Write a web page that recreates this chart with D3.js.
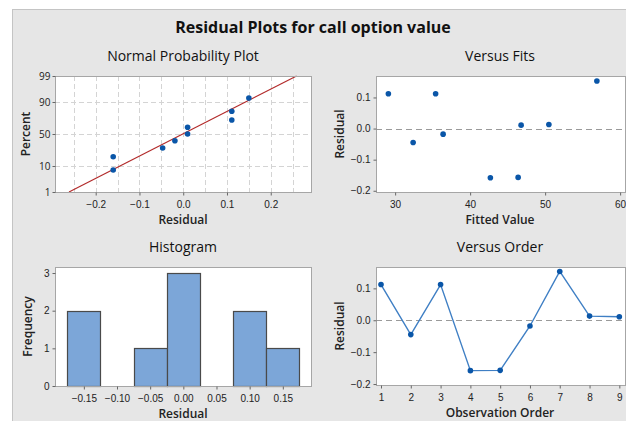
<!DOCTYPE html>
<html>
<head>
<meta charset="utf-8">
<script src="https://cdn.jsdelivr.net/npm/d3@7"></script>
<style>
  body { margin: 0; background: #fff; }
  svg { display: block; font-family: "Open Sans", "Noto Sans", sans-serif; }
  .tick text { font-size: 10px; fill: #222; }
  .tick line { stroke: #666; }
</style>
</head>
<body>
<div id="chart"></div>
<script>
// residuals in observation order
const order = [1, 2, 3, 4, 5, 6, 7, 8, 9];
const residuals = [0.112, -0.045, 0.112, -0.158, -0.157, -0.018, 0.153, 0.013, 0.011];
const fitted = [29.1, 32.4, 35.4, 42.7, 46.4, 36.4, 56.9, 50.5, 46.8];

// normal probability plot: sorted residuals and their plotted percents
const nppResid = [-0.160, -0.160, -0.047, -0.019, 0.010, 0.010, 0.111, 0.111, 0.150];
const nppPercent = [7.4, 18.1, 28.7, 39.4, 50, 60.6, 71.3, 81.9, 92.6];
const nppLine = [{ r: -0.261, p: 1 }, { r: 0.259, p: 99 }];
const percentTicks = [1, 10, 50, 90, 99];
const percentGrid = [10, 50, 90];

// histogram bins
const binCenters = [-0.15, -0.10, -0.05, 0.00, 0.05, 0.10, 0.15];
const binCounts = [2, 0, 1, 3, 0, 2, 1];
const binWidth = 0.05;

const W = 626, H = 421;
const blue = "#0a56a8";

const svg = d3.select("#chart").append("svg")
  .attr("width", W).attr("height", H);

// outer gray panel
svg.append("rect")
  .attr("x", 12.5).attr("y", 9.5).attr("width", W).attr("height", H)
  .attr("fill", "#e6e6e6").attr("stroke", "#c4c4c4");

svg.append("text")
  .attr("x", 313).attr("y", 33).attr("text-anchor", "middle")
  .attr("font-size", 16).attr("font-weight", "bold").attr("fill", "#111")
  .text("Residual Plots for call option value");

// inverse normal cdf (Acklam) for the probability axis
function probit(p) {
  const a = [-39.6968302866538, 220.946098424521, -275.928510446969, 138.357751867269, -30.6647980661472, 2.50662827745924];
  const b = [-54.4760987982241, 161.585836858041, -155.698979859887, 66.8013118877197, -13.2806815528857];
  const c = [-0.00778489400243029, -0.322396458041136, -2.40075827716184, -2.54973253934373, 4.37466414146497, 2.93816398269878];
  const d = [0.00778469570904146, 0.32246712907004, 2.445134137143, 3.75440866190742];
  const pl = 0.02425;
  let q, r;
  if (p < pl) {
    q = Math.sqrt(-2 * Math.log(p));
    return (((((c[0]*q+c[1])*q+c[2])*q+c[3])*q+c[4])*q+c[5]) / ((((d[0]*q+d[1])*q+d[2])*q+d[3])*q+1);
  }
  if (p > 1 - pl) {
    q = Math.sqrt(-2 * Math.log(1 - p));
    return -(((((c[0]*q+c[1])*q+c[2])*q+c[3])*q+c[4])*q+c[5]) / ((((d[0]*q+d[1])*q+d[2])*q+d[3])*q+1);
  }
  q = p - 0.5; r = q * q;
  return (((((a[0]*r+a[1])*r+a[2])*r+a[3])*r+a[4])*r+a[5])*q / (((((b[0]*r+b[1])*r+b[2])*r+b[3])*r+b[4])*r+1);
}

// sets up one sub plot: title, white frame, axis titles
function panel(box, title, xTitle, yTitle) {
  const g = svg.append("g");
  g.append("rect")
    .attr("x", box.x0 + 0.5).attr("y", box.y0 + 0.5)
    .attr("width", box.x1 - box.x0).attr("height", box.y1 - box.y0)
    .attr("fill", "#fff");
  g.append("text")
    .attr("x", box.cx).attr("y", box.y0 - 15).attr("text-anchor", "middle")
    .attr("font-size", 14).attr("fill", "#111").text(title);
  g.append("text")
    .attr("x", box.cx).attr("y", box.y1 + 32).attr("text-anchor", "middle")
    .attr("font-size", 12).attr("font-weight", 600).attr("fill", "#222").text(xTitle);
  g.append("text")
    .attr("transform", `translate(${box.yt}, ${(box.y0 + box.y1) / 2}) rotate(-90)`)
    .attr("text-anchor", "middle")
    .attr("font-size", 12).attr("font-weight", 600).attr("fill", "#222").text(yTitle);
  return g;
}

function frame(g, box) {
  g.append("rect")
    .attr("x", box.x0 + 0.5).attr("y", box.y0 + 0.5)
    .attr("width", box.x1 - box.x0).attr("height", box.y1 - box.y0)
    .attr("fill", "none").attr("stroke", "#a6a6a6");
}

function axes(g, box, xAxis, yAxis) {
  const gx = g.append("g").attr("transform", `translate(0, ${box.y1 + 0.5})`).call(xAxis);
  gx.select(".domain").remove();
  gx.selectAll("text").attr("dy", "0.9em");
  if (yAxis) {
    const gy = g.append("g").attr("transform", `translate(${box.x0 + 0.5}, 0)`).call(yAxis);
    gy.select(".domain").remove();
  }
}

// 1. normal probability plot
{
  const box = { x0: 55, x1: 311, y0: 76, y1: 192, cx: 183, yt: 30 };
  const g = panel(box, "Normal Probability Plot", "Residual", "Percent");
  const x = d3.scaleLinear().domain([-0.293, 0.292]).range([box.x0, box.x1]);
  const z = d3.scaleLinear().domain([probit(0.01), probit(0.99)]).range([box.y1, box.y0]);
  const y = p => z(probit(p / 100));

  g.append("g").selectAll("line").data(d3.range(-0.25, 0.2501, 0.05)).join("line")
    .attr("x1", d => Math.round(x(d)) + 0.5).attr("x2", d => Math.round(x(d)) + 0.5)
    .attr("y1", box.y0).attr("y2", box.y1)
    .attr("stroke", "#d4d4d4").attr("stroke-dasharray", "5,3");
  g.append("g").selectAll("line").data(percentGrid).join("line")
    .attr("x1", box.x0).attr("x2", box.x1)
    .attr("y1", d => Math.round(y(d)) + 0.5).attr("y2", d => Math.round(y(d)) + 0.5)
    .attr("stroke", "#d4d4d4").attr("stroke-dasharray", "5,3");

  g.append("path")
    .datum(nppLine)
    .attr("d", d3.line().x(d => x(d.r)).y(d => y(d.p)))
    .attr("stroke", "#b22a2a").attr("stroke-width", 1.2).attr("fill", "none");

  g.append("g").selectAll("circle").data(nppResid).join("circle")
    .attr("cx", d => x(d)).attr("cy", (d, i) => y(nppPercent[i]))
    .attr("r", 2.8).attr("fill", blue);

  frame(g, box);
  axes(g, box,
    d3.axisBottom(x).tickValues([-0.2, -0.1, 0, 0.1, 0.2]).tickFormat(d3.format(".1f")).tickSize(3),
    null);
  // percent ticks on the probability scale
  const py = g.append("g").selectAll("g").data(percentTicks).join("g")
    .attr("transform", d => `translate(${box.x0 + 0.5}, ${Math.round(y(d)) + 0.5})`);
  py.append("line").attr("x2", -3).attr("stroke", "#666");
  py.append("text")
    .attr("x", -5).attr("dy", "0.32em")
    .attr("text-anchor", "end").attr("font-size", 10).attr("fill", "#222")
    .text(d => d);
}

// 2. versus fits
{
  const box = { x0: 376, x1: 625, y0: 76, y1: 192, cx: 500, yt: 344 };
  const g = panel(box, "Versus Fits", "Fitted Value", "Residual");
  const x = d3.scaleLinear().domain([27.45, 60.65]).range([box.x0, box.x1]);
  const y = d3.scaleLinear().domain([-0.204, 0.169]).range([box.y1, box.y0]);

  g.append("line")
    .attr("x1", box.x0).attr("x2", box.x1)
    .attr("y1", Math.round(y(0)) + 0.5).attr("y2", Math.round(y(0)) + 0.5)
    .attr("stroke", "#9a9a9a").attr("stroke-width", 1.2).attr("stroke-dasharray", "6,4");

  g.append("g").selectAll("circle").data(residuals).join("circle")
    .attr("cx", (d, i) => x(fitted[i])).attr("cy", d => y(d))
    .attr("r", 2.8).attr("fill", blue);

  frame(g, box);
  axes(g, box,
    d3.axisBottom(x).tickValues([30, 40, 50, 60]).tickSize(3),
    d3.axisLeft(y).tickValues([-0.2, -0.1, 0, 0.1]).tickFormat(d3.format(".1f")).tickSize(3));
}

// 3. histogram
{
  const box = { x0: 55, x1: 311, y0: 267, y1: 386, cx: 183, yt: 32 };
  const g = panel(box, "Histogram", "Residual", "Frequency");
  const x = d3.scaleLinear().domain([-0.1935, 0.1925]).range([box.x0, box.x1]);
  const y = d3.scaleLinear().domain([0, 3.16]).range([box.y1, box.y0]);

  g.append("g").selectAll("rect").data(binCounts).join("rect")
    .attr("x", (d, i) => Math.round(x(binCenters[i] - binWidth / 2)) + 0.5)
    .attr("width", (d, i) => Math.round(x(binCenters[i] + binWidth / 2)) - Math.round(x(binCenters[i] - binWidth / 2)))
    .attr("y", d => Math.round(y(d)) + 0.5)
    .attr("height", d => Math.round(y(0)) - Math.round(y(d)))
    .attr("fill", "#7ca6d8").attr("stroke", "#4a4a4a").attr("stroke-width", 1.2)
    .attr("display", d => d > 0 ? null : "none");

  frame(g, box);
  axes(g, box,
    d3.axisBottom(x).tickValues(binCenters).tickFormat(d3.format(".2f")).tickSize(3),
    d3.axisLeft(y).tickValues([0, 1, 2, 3]).tickFormat(d3.format("d")).tickSize(3));
}

// 4. versus order
{
  const box = { x0: 376, x1: 625, y0: 267, y1: 385, cx: 500, yt: 344 };
  const g = panel(box, "Versus Order", "Observation Order", "Residual");
  const x = d3.scaleLinear().domain([0.832, 9.19]).range([box.x0, box.x1]);
  const y = d3.scaleLinear().domain([-0.203, 0.167]).range([box.y1, box.y0]);

  g.append("line")
    .attr("x1", box.x0).attr("x2", box.x1)
    .attr("y1", Math.round(y(0)) + 0.5).attr("y2", Math.round(y(0)) + 0.5)
    .attr("stroke", "#9a9a9a").attr("stroke-width", 1.2).attr("stroke-dasharray", "6,4");

  g.append("path")
    .datum(residuals)
    .attr("d", d3.line().x((d, i) => x(order[i])).y(d => y(d)))
    .attr("stroke", "#3f7fc4").attr("stroke-width", 1.4).attr("fill", "none");

  g.append("g").selectAll("circle").data(residuals).join("circle")
    .attr("cx", (d, i) => x(order[i])).attr("cy", d => y(d))
    .attr("r", 2.8).attr("fill", blue);

  frame(g, box);
  axes(g, box,
    d3.axisBottom(x).tickValues(order).tickSize(3),
    d3.axisLeft(y).tickValues([-0.2, -0.1, 0, 0.1]).tickFormat(d3.format(".1f")).tickSize(3));
}
</script>
</body>
</html>
